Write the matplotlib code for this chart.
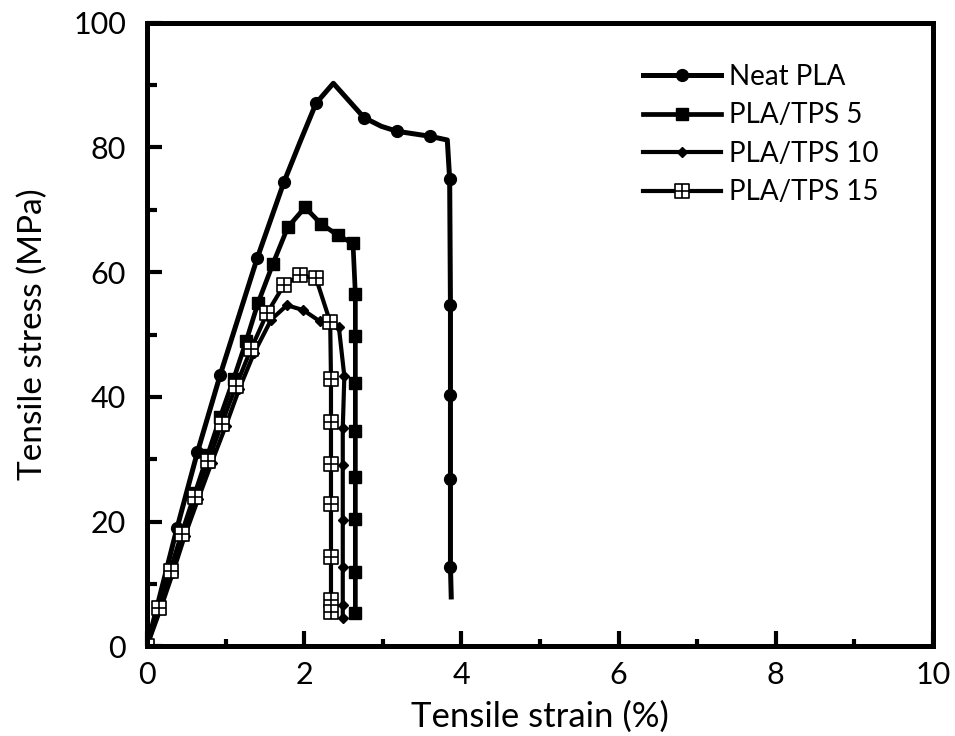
import matplotlib
matplotlib.use('Agg')
import matplotlib.pyplot as plt
from matplotlib.path import Path
from matplotlib.ticker import MultipleLocator

# Neat PLA (markers only on some vertices)
neat_x = [0.0, 0.38, 0.64, 0.93, 1.40, 1.74, 1.95, 2.15, 2.37, 2.76, 2.98, 3.18, 3.60, 3.82, 3.85, 3.86, 3.86, 3.86, 3.86, 3.87]
neat_y = [0.0, 18.9, 31.1, 43.5, 62.2, 74.4, 81.0, 87.1, 90.3, 84.8, 83.4, 82.6, 81.8, 81.2, 74.9, 54.7, 40.3, 26.9, 12.7, 7.9]
neat_marks = [1, 2, 3, 4, 5, 7, 9, 11, 12, 14, 15, 16, 17, 18]

tps5_x = [0.0, 0.15, 0.30, 0.45, 0.61, 0.77, 0.93, 1.10, 1.26, 1.41, 1.60, 1.79, 2.01, 2.21, 2.43, 2.62,
          2.65, 2.65, 2.65, 2.65, 2.65, 2.65, 2.65, 2.65]
tps5_y = [0.0, 6.2, 12.3, 18.4, 24.5, 30.6, 36.7, 42.8, 48.9, 55.0, 61.3, 67.2, 70.4, 67.8, 65.9, 64.6,
          56.5, 49.7, 42.2, 34.5, 27.1, 20.4, 11.9, 5.3]

tps10_x = [0.0, 0.17, 0.33, 0.48, 0.65, 0.82, 1.00, 1.17, 1.36, 1.58, 1.78, 1.99, 2.20, 2.44,
           2.51, 2.49, 2.49, 2.49, 2.49, 2.49, 2.49]
tps10_y = [0.0, 5.9, 11.8, 17.7, 23.6, 29.4, 35.3, 41.2, 47.0, 52.4, 54.7, 53.9, 52.1, 51.2,
           43.3, 35.0, 29.0, 20.3, 12.7, 6.6, 4.5]

tps15_x = [0.0, 0.15, 0.31, 0.45, 0.61, 0.78, 0.95, 1.13, 1.32, 1.53, 1.74, 1.95, 2.15, 2.33,
           2.34, 2.34, 2.34, 2.34, 2.34, 2.34, 2.34]
tps15_y = [0.0, 6.1, 12.0, 18.0, 23.9, 29.7, 35.7, 41.7, 47.6, 53.5, 57.9, 59.5, 59.0, 52.0,
           42.8, 35.9, 29.2, 22.8, 14.3, 7.4, 5.5]

labels = ['Neat PLA', 'PLA/TPS 5', 'PLA/TPS 10', 'PLA/TPS 15']

# square with a cross inside
grid_sq = Path(
    [(-1, -1), (1, -1), (1, 1), (-1, 1), (-1, -1), (0, -1), (0, 1), (-1, 0), (1, 0)],
    [Path.MOVETO, Path.LINETO, Path.LINETO, Path.LINETO, Path.CLOSEPOLY,
     Path.MOVETO, Path.LINETO, Path.MOVETO, Path.LINETO])

plt.rcParams['font.family'] = ['Lato', 'DejaVu Sans']

fig = plt.figure(figsize=(9.55, 7.36), dpi=100)
ax = fig.add_axes([0.154, 0.122, 0.823, 0.847])

ax.plot(neat_x, neat_y, color='black', lw=3.6, marker='o', ms=8.5, markevery=neat_marks, label=labels[0])
ax.plot(tps5_x, tps5_y, color='black', lw=3.4, marker='s', ms=9, label=labels[1])
ax.plot(tps10_x, tps10_y, color='black', lw=3.0, marker='D', ms=5.5, label=labels[2])
ax.plot(tps15_x, tps15_y, color='black', lw=3.0, marker=grid_sq, ms=10, mfc='white', mec='black',
        mew=1.2, label=labels[3])

ax.set_xlim(0, 10)
ax.set_ylim(0, 100)
ax.xaxis.set_major_locator(MultipleLocator(2))
ax.xaxis.set_minor_locator(MultipleLocator(1))
ax.yaxis.set_major_locator(MultipleLocator(20))
ax.yaxis.set_minor_locator(MultipleLocator(10))
ax.tick_params(which='major', direction='in', length=11, width=3, labelsize=22)
ax.tick_params(axis='x', which='major', pad=11)
ax.tick_params(axis='y', which='major', pad=15)
ax.tick_params(which='minor', direction='in', length=5, width=3)
ax.tick_params(axis='y', which='minor', length=7)

for s in ax.spines.values():
    s.set_linewidth(3.6)

ax.set_xlabel('Tensile strain (%)', fontsize=25, labelpad=8)
ax.set_ylabel('Tensile stress (MPa)', fontsize=24, labelpad=18)

ax.legend(loc='upper left', bbox_to_anchor=(0.631, 0.934), frameon=False, fontsize=20,
          borderpad=0, borderaxespad=0,
          handlelength=2.8, handletextpad=0.3, labelspacing=0.45)

plt.savefig('out.png', dpi=100)
